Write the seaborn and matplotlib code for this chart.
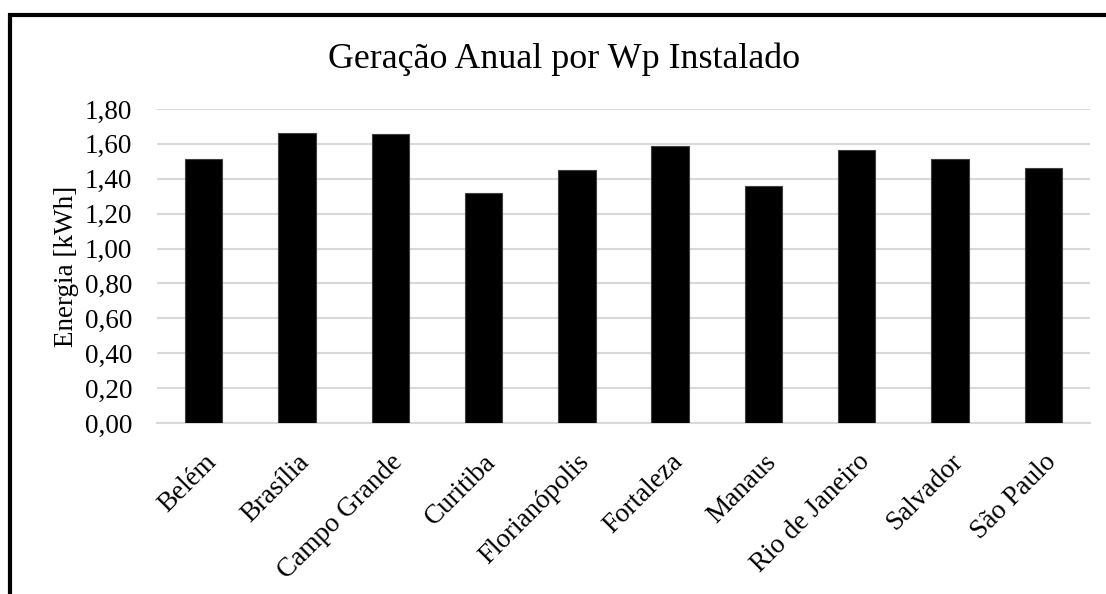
import matplotlib
matplotlib.use("Agg")
import matplotlib.pyplot as plt
import matplotlib.patches as patches
import seaborn as sns
from matplotlib.ticker import FuncFormatter

# data
cidades = ["Belém", "Brasília", "Campo Grande", "Curitiba", "Florianópolis",
           "Fortaleza", "Manaus", "Rio de Janeiro", "Salvador", "São Paulo"]
energia = [1.515, 1.663, 1.657, 1.317, 1.452, 1.590, 1.359, 1.564, 1.515, 1.464]
yticks = [0.0, 0.2, 0.4, 0.6, 0.8, 1.0, 1.2, 1.4, 1.6, 1.8]

sns.set_style("white")
plt.rcParams["font.family"] = ["Liberation Serif", "DejaVu Serif"]
plt.rcParams["text.color"] = "black"
plt.rcParams["axes.labelcolor"] = "black"

fig = plt.figure(figsize=(11.06, 5.94), dpi=100)
ax = fig.add_axes([0.142, 0.288, 0.8435, 0.5285])

sns.barplot(x=cidades, y=energia, color="black", saturation=1, width=0.4,
            edgecolor="#404040", linewidth=0.8, ax=ax, zorder=3)

ax.set_ylim(0, 1.8)
ax.set_yticks(yticks)
ax.yaxis.set_major_formatter(FuncFormatter(lambda v, p: f"{v:.2f}".replace(".", ",")))
ax.grid(axis="y", color="#d9d9d9", linewidth=1.5, zorder=0)
ax.set_axisbelow(True)
for s in ["top", "right", "left"]:
    ax.spines[s].set_visible(False)
ax.spines["bottom"].set_color("#d9d9d9")
ax.spines["bottom"].set_linewidth(1.5)

ax.tick_params(axis="both", length=0, labelsize=19.5, colors="black")
ax.tick_params(axis="y", pad=18)
ax.tick_params(axis="x", pad=19)
plt.setp(ax.get_xticklabels(), rotation=45, ha="right", rotation_mode="anchor")
ax.set_xlabel("")
ax.set_ylabel("Energia [kWh]", fontsize=19.5, labelpad=4, color="black")

fig.text(564 / 1106, 1 - 68 / 594, "Geração Anual por Wp Instalado",
         fontsize=25.8, ha="center", va="baseline", color="black")

# chart border (only top and left edges fall inside the picture)
borda = patches.Rectangle((10 / 1106, -0.1), 1.2, 1 - 15 / 594 + 0.1,
                          transform=fig.transFigure, fill=False,
                          edgecolor="black", linewidth=3, clip_on=False)
fig.patches.append(borda)

fig.savefig("out.png", dpi=100)
